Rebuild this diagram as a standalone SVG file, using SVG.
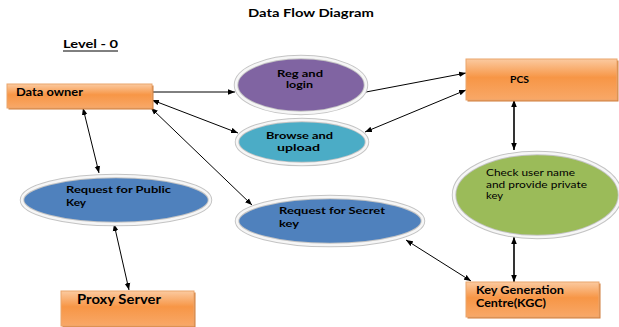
<svg xmlns="http://www.w3.org/2000/svg" width="619" height="327" viewBox="0 0 619 327">
  <defs>
    <linearGradient id="orangeFill" x1="0" y1="0" x2="0" y2="1">
      <stop offset="0" stop-color="#fbcaa0"/>
      <stop offset="0.45" stop-color="#f79646"/>
      <stop offset="1" stop-color="#f8a868"/>
    </linearGradient>
    <marker id="arrow" viewBox="0 0 10 10" refX="10" refY="5" markerWidth="7" markerHeight="7" markerUnits="userSpaceOnUse" orient="auto-start-reverse">
      <path d="M0,1 L10,5 L0,9 Z" fill="#000"/>
    </marker>
    <style>
      .title { font-family: Lato, "Open Sans", sans-serif; font-weight: bold; fill: #000; }
      .lbl { font-family: Lato, "Open Sans", sans-serif; font-weight: bold; fill: #000; }
      .plain { font-family: Lato, "Open Sans", sans-serif; fill: #000; }
      .box { fill: url(#orangeFill); stroke: #eaa56c; stroke-width: 1; }
      .boxShadow { fill: #d07d3a; }
      .rim { stroke: #c4c4c4; stroke-width: 4.5; }
      .ring { fill: none; stroke: #f6f6f6; stroke-width: 2.6; }
      .link { fill: none; stroke: #000; stroke-width: 1; }
      .link2 { fill: none; stroke: #000; stroke-width: 1.6; }
    </style>
  </defs>

  <!-- headings -->
  <text class="title" x="248" y="17" font-size="11" textLength="126" lengthAdjust="spacingAndGlyphs">Data Flow Diagram</text>
  <text class="title" x="63" y="48" font-size="10.5" textLength="55" lengthAdjust="spacingAndGlyphs">Level - 0</text>
  <line x1="63" y1="51" x2="118" y2="51" stroke="#000" stroke-width="1"/>

  <!-- connectors -->
  <g id="connectors">
    <line class="link" x1="152" y1="92" x2="235" y2="92" marker-end="url(#arrow)"/>
    <line class="link" x1="366" y1="92" x2="466" y2="73" marker-end="url(#arrow)"/>
    <line class="link" x1="152" y1="100" x2="238" y2="133" marker-start="url(#arrow)" marker-end="url(#arrow)"/>
    <line class="link" x1="365" y1="132" x2="466" y2="90" marker-start="url(#arrow)" marker-end="url(#arrow)"/>
    <line class="link" x1="151" y1="108" x2="252" y2="205" marker-start="url(#arrow)" marker-end="url(#arrow)"/>
    <line class="link" x1="83" y1="108" x2="99" y2="173" marker-start="url(#arrow)" marker-end="url(#arrow)"/>
    <line class="link" x1="114" y1="224" x2="129" y2="290" marker-start="url(#arrow)" marker-end="url(#arrow)"/>
    <line class="link2" x1="514" y1="100" x2="514" y2="150" marker-start="url(#arrow)" marker-end="url(#arrow)"/>
    <line class="link2" x1="514" y1="237" x2="514" y2="282" marker-start="url(#arrow)" marker-end="url(#arrow)"/>
    <line class="link" x1="406" y1="240" x2="471" y2="281" marker-start="url(#arrow)" marker-end="url(#arrow)"/>
  </g>

  <!-- external entities -->
  <g id="data-owner">
    <rect class="boxShadow" x="8.5" y="85.5" width="145" height="24"/>
    <rect class="box" x="7" y="84" width="145" height="24"/>
    <text class="lbl" x="16" y="96" font-size="10.5" textLength="67" lengthAdjust="spacingAndGlyphs">Data owner</text>
  </g>

  <g id="pcs">
    <rect class="boxShadow" x="467.5" y="60.5" width="151" height="41"/>
    <rect class="box" x="466" y="59" width="151" height="41"/>
    <text class="lbl" x="510" y="83" font-size="9" textLength="19" lengthAdjust="spacingAndGlyphs">PCS</text>
  </g>

  <g id="proxy-server">
    <rect class="boxShadow" x="62.5" y="292.5" width="133" height="35"/>
    <rect class="box" x="61" y="291" width="133" height="35"/>
    <text class="lbl" x="77" y="304" font-size="12.5" textLength="84" lengthAdjust="spacingAndGlyphs">Proxy Server</text>
  </g>

  <g id="kgc">
    <rect class="boxShadow" x="467.5" y="283.5" width="133" height="35"/>
    <rect class="box" x="466" y="282" width="133" height="35"/>
    <text class="lbl" x="476" y="294" font-size="10.5" textLength="88" lengthAdjust="spacingAndGlyphs">Key Generation</text>
    <text class="lbl" x="476" y="307" font-size="10.5" textLength="70" lengthAdjust="spacingAndGlyphs">Centre(KGC)</text>
  </g>

  <!-- processes -->
  <g id="reg-login">
    <ellipse class="rim" cx="301" cy="85" rx="65" ry="28" fill="#8064a2"/>
    <ellipse class="ring" cx="301" cy="85" rx="65" ry="28"/>
    <text class="lbl" x="277" y="77" font-size="9" textLength="46" lengthAdjust="spacingAndGlyphs">Reg and</text>
    <text class="lbl" x="286" y="88" font-size="9" textLength="27" lengthAdjust="spacingAndGlyphs">login</text>
  </g>

  <g id="browse-upload">
    <ellipse class="rim" cx="302" cy="142" rx="65" ry="22" fill="#4bacc6"/>
    <ellipse class="ring" cx="302" cy="142" rx="65" ry="22"/>
    <text class="lbl" x="266" y="139" font-size="9.5" textLength="67" lengthAdjust="spacingAndGlyphs">Browse and</text>
    <text class="lbl" x="277" y="151" font-size="9.5" textLength="43" lengthAdjust="spacingAndGlyphs">upload</text>
  </g>

  <g id="check-user">
    <ellipse class="rim" cx="537" cy="195" rx="83" ry="42" fill="#9bbb59"/>
    <ellipse class="ring" cx="537" cy="195" rx="83" ry="42"/>
    <text class="plain" x="486" y="176" font-size="9" textLength="89" lengthAdjust="spacingAndGlyphs">Check user name</text>
    <text class="plain" x="486" y="188" font-size="9" textLength="101" lengthAdjust="spacingAndGlyphs">and provide private</text>
    <text class="plain" x="486" y="199" font-size="9" textLength="17" lengthAdjust="spacingAndGlyphs">key</text>
  </g>

  <g id="public-key">
    <ellipse class="rim" cx="116" cy="200" rx="94" ry="24" fill="#4f81bd"/>
    <ellipse class="ring" cx="116" cy="200" rx="94" ry="24"/>
    <text class="lbl" x="66" y="193" font-size="10" textLength="105" lengthAdjust="spacingAndGlyphs">Request for Public</text>
    <text class="lbl" x="66" y="206" font-size="10" textLength="20" lengthAdjust="spacingAndGlyphs">Key</text>
  </g>

  <g id="secret-key">
    <ellipse class="rim" cx="330" cy="221" rx="93" ry="24" fill="#4f81bd"/>
    <ellipse class="ring" cx="330" cy="221" rx="93" ry="24"/>
    <text class="lbl" x="279" y="214" font-size="10" textLength="106" lengthAdjust="spacingAndGlyphs">Request for Secret</text>
    <text class="lbl" x="279" y="227" font-size="10" textLength="20" lengthAdjust="spacingAndGlyphs">key</text>
  </g>
</svg>
